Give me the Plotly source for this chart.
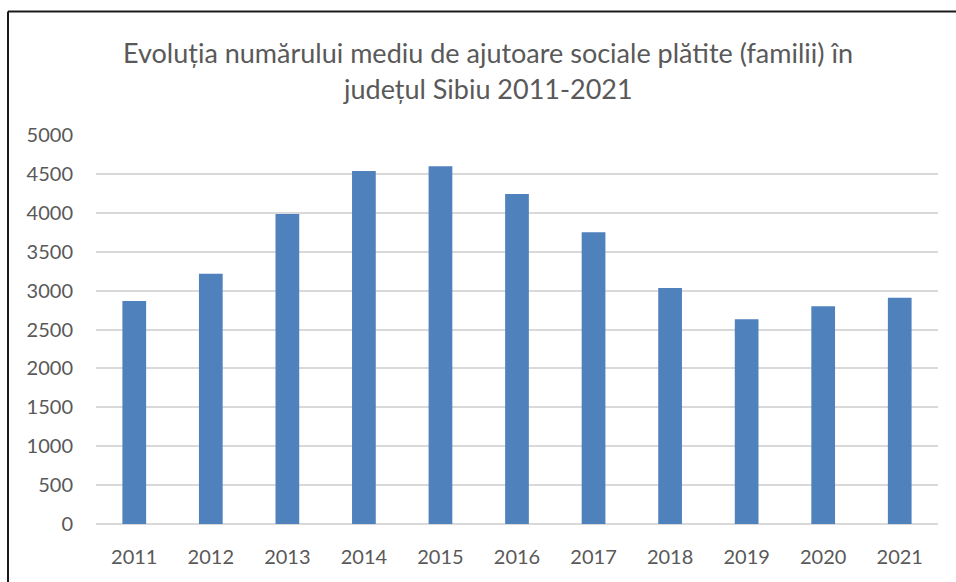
import plotly.graph_objects as go

# Average number of paid social-aid beneficiaries (families), Sibiu county
years = ["2011", "2012", "2013", "2014", "2015", "2016",
         "2017", "2018", "2019", "2020", "2021"]
families = [2866, 3217, 3985, 4537, 4598, 4242, 3750, 3033, 2631, 2798, 2909]

y_ticks = [0, 500, 1000, 1500, 2000, 2500, 3000, 3500, 4000, 4500, 5000]

title_lines = ["Evoluția numărului mediu de ajutoare sociale plătite (familii) în",
               "județul Sibiu 2011-2021"]

FONT = "Lato, 'Liberation Sans', sans-serif"
TEXT_GREY = "#595959"
GRID_GREY = "#d9d9d9"

W, H = 956, 582
L, R, T, B = 96, 18, 135, 58

plot_w = W - L - R
plot_h = H - T - B


def px_x(px):
    return (px - L) / plot_w


def px_y(py):
    return (H - B - py) / plot_h


fig = go.Figure(
    go.Bar(
        x=years,
        y=families,
        marker=dict(color="#4f81bd", line=dict(width=0)),
        hoverinfo="x+y",
    )
)

frame = dict(color="#1a1a1a", width=2)

fig.update_layout(
    width=W,
    height=H,
    margin=dict(l=L, r=R, t=T, b=B),
    paper_bgcolor="white",
    plot_bgcolor="white",
    showlegend=False,
    bargap=0.69,
    font=dict(family=FONT, color=TEXT_GREY, size=20),
    xaxis=dict(
        type="category",
        showgrid=False,
        showline=False,
        ticks="",
        ticklabelstandoff=19,
        tickfont=dict(family=FONT, size=20, color=TEXT_GREY),
    ),
    yaxis=dict(
        range=[0, 5000],
        tickvals=y_ticks,
        ticktext=[str(v) for v in y_ticks],
        showgrid=True,
        gridcolor=GRID_GREY,
        gridwidth=1.5,
        zeroline=True,
        zerolinecolor=GRID_GREY,
        zerolinewidth=1.5,
        showline=False,
        ticks="",
        ticklabelstandoff=22,
        tickfont=dict(family=FONT, size=20, color=TEXT_GREY),
    ),
    annotations=[
        dict(
            text=line,
            xref="paper",
            yref="paper",
            x=px_x(488),
            y=px_y(cy),
            xanchor="center",
            yanchor="middle",
            showarrow=False,
            font=dict(family=FONT, size=27, color=TEXT_GREY),
        )
        for line, cy in zip(title_lines, [52, 88])
    ],
    shapes=[
        # chart frame: left and top edges
        dict(type="line", xref="paper", yref="paper",
             x0=px_x(8), x1=px_x(8), y0=px_y(11.5), y1=px_y(600),
             line=frame, layer="above"),
        dict(type="line", xref="paper", yref="paper",
             x0=px_x(8), x1=px_x(970), y0=px_y(11.5), y1=px_y(11.5),
             line=frame, layer="above"),
    ],
)

fig.write_html("out.html")
